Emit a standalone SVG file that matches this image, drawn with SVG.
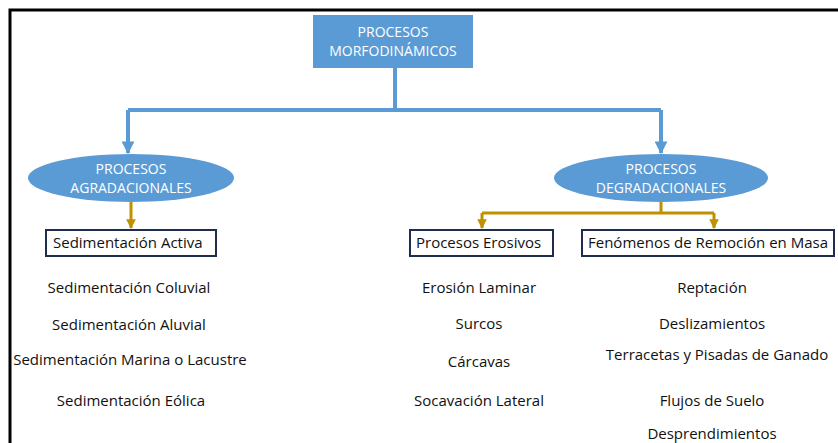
<svg xmlns="http://www.w3.org/2000/svg" width="838" height="443" viewBox="0 0 838 443">
<defs>
<marker id="ab" viewBox="0 0 10 10" refX="9" refY="5" markerWidth="3.2" markerHeight="3.2" orient="auto" markerUnits="strokeWidth"><path d="M0,0 L10,5 L0,10 Z" fill="#5b9bd5"/></marker>
<marker id="ag" viewBox="0 0 10 10" refX="9" refY="5" markerWidth="3.2" markerHeight="3.2" orient="auto" markerUnits="strokeWidth"><path d="M0,0 L10,5 L0,10 Z" fill="#bf9000"/></marker>
</defs>
<style>
text{font-family:"Open Sans","Liberation Sans",sans-serif;fill:#111;}
.w{fill:#ffffff;font-size:14px;text-anchor:middle;}
.shape{fill:#5b9bd5;}
.box{fill:#fff;stroke:#1f2d4f;stroke-width:2;}
.bt{font-size:15px;}
.it{font-size:15px;text-anchor:middle;}
.blue{fill:none;stroke:#5b9bd5;stroke-width:4;}
.gold{fill:none;stroke:#bf9000;stroke-width:3;}
</style>
<rect width="838" height="443" fill="#fff"/>
<path d="M10,443 V10 H838" fill="none" stroke="#000" stroke-width="3"/>
<g id="connectors">
<path class="blue" d="M395,68 V110"/>
<path class="blue" d="M128,110 H661"/>
<path class="blue" d="M128,110 V153" marker-end="url(#ab)"/>
<path class="blue" d="M661,110 V153" marker-end="url(#ab)"/>
<path class="gold" d="M131,202 V228" marker-end="url(#ag)"/>
<path class="gold" d="M661,202 V213"/>
<path class="gold" d="M482,213 H714"/>
<path class="gold" d="M482,213 V228" marker-end="url(#ag)"/>
<path class="gold" d="M714,213 V228" marker-end="url(#ag)"/>
</g>
<g id="n_morfo">
<rect class="shape" x="313" y="15" width="160" height="53"/>
<text class="w" x="393" y="37">PROCESOS</text>
<text class="w" x="393" y="56">MORFODINÁMICOS</text>
</g>
<g id="n_agrad">
<ellipse class="shape" cx="131" cy="178" rx="103" ry="24"/>
<text class="w" x="131" y="174">PROCESOS</text>
<text class="w" x="131" y="193">AGRADACIONALES</text>
</g>
<g id="n_degrad">
<ellipse class="shape" cx="661" cy="178" rx="107" ry="24"/>
<text class="w" x="661" y="174">PROCESOS</text>
<text class="w" x="661" y="193">DEGRADACIONALES</text>
</g>
<g id="n_sed">
<rect class="box" x="46" y="230" width="170" height="26"/>
<text class="bt" x="53" y="248">Sedimentación Activa</text>
</g>
<g id="n_eros">
<rect class="box" x="410" y="230" width="143" height="26"/>
<text class="bt" x="416" y="248">Procesos Erosivos</text>
</g>
<g id="n_remo">
<rect class="box" x="582" y="230" width="252" height="26"/>
<text class="bt" x="588" y="248">Fenómenos de Remoción en Masa</text>
</g>
<g id="list_agrad">
<text class="it" x="129" y="293">Sedimentación Coluvial</text>
<text class="it" x="129" y="330">Sedimentación Aluvial</text>
<text class="it" x="130" y="365">Sedimentación Marina o Lacustre</text>
<text class="it" x="131" y="406">Sedimentación Eólica</text>
</g>
<g id="list_eros">
<text class="it" x="479" y="293">Erosión Laminar</text>
<text class="it" x="479" y="329">Surcos</text>
<text class="it" x="479" y="367">Cárcavas</text>
<text class="it" x="479" y="406">Socavación Lateral</text>
</g>
<g id="list_remo">
<text class="it" x="712" y="293">Reptación</text>
<text class="it" x="712" y="329">Deslizamientos</text>
<text class="it" x="717" y="360">Terracetas y Pisadas de Ganado</text>
<text class="it" x="712" y="406">Flujos de Suelo</text>
<text class="it" x="712" y="439">Desprendimientos</text>
</g>
</svg>
